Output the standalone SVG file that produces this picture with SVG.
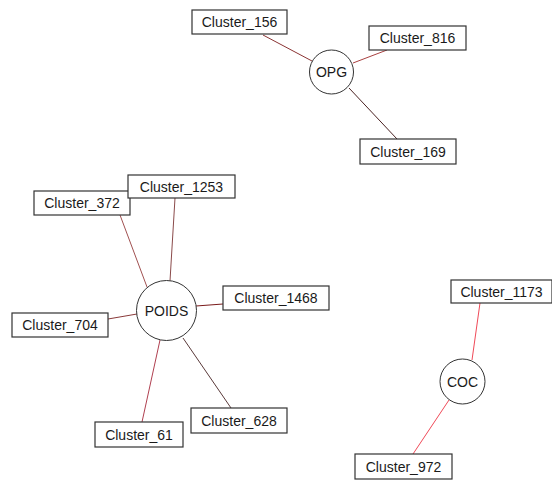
<svg xmlns="http://www.w3.org/2000/svg" width="552" height="480" viewBox="0 0 552 480">
  <style>
    .box { fill: #ffffff; stroke: #333333; stroke-width: 1.2; }
    .hub { fill: #ffffff; stroke: #333333; stroke-width: 1; }
    .lbl { font-family: "Liberation Sans", Arial, sans-serif; font-size: 14px; fill: #1a1a1a; text-anchor: middle; dominant-baseline: central; }
    .edge { stroke-width: 1; fill: none; }
  </style>
  <rect width="552" height="480" fill="#ffffff"/>

  <g id="connectors">
    <!-- OPG -->
    <line class="edge" x1="263" y1="35" x2="312" y2="61" stroke="#8b3434"/>
    <line class="edge" x1="353" y1="63" x2="387" y2="50" stroke="#a84040"/>
    <line class="edge" x1="349" y1="88" x2="397" y2="139" stroke="#4a2222"/>
    <!-- POIDS -->
    <line class="edge" x1="120" y1="215" x2="147" y2="287" stroke="#a05050"/>
    <line class="edge" x1="175" y1="198" x2="170" y2="281" stroke="#8a4a4a"/>
    <line class="edge" x1="196" y1="306" x2="223" y2="304" stroke="#7a1a1a"/>
    <line class="edge" x1="108" y1="319" x2="137" y2="314" stroke="#8a3a3a"/>
    <line class="edge" x1="160" y1="340" x2="142" y2="422" stroke="#b04050"/>
    <line class="edge" x1="183" y1="338" x2="231" y2="408" stroke="#5a3a3a"/>
    <!-- COC -->
    <line class="edge" x1="480" y1="303" x2="472" y2="360" stroke="#f04a58"/>
    <line class="edge" x1="449" y1="400" x2="413" y2="454" stroke="#f04a58"/>
  </g>

  <!-- OPG group -->
  <g id="n-cluster-156">
    <rect class="box" x="192" y="10" width="95" height="24"/>
    <text class="lbl" x="239.5" y="22">Cluster_156</text>
  </g>
  <g id="n-cluster-816">
    <rect class="box" x="369" y="26" width="97" height="24"/>
    <text class="lbl" x="417.5" y="38">Cluster_816</text>
  </g>
  <g id="n-cluster-169">
    <rect class="box" x="360" y="139" width="96" height="25"/>
    <text class="lbl" x="408" y="151.5">Cluster_169</text>
  </g>
  <g id="n-opg">
    <circle class="hub" cx="331.5" cy="72" r="22"/>
    <text class="lbl" x="331.5" y="72">OPG</text>
  </g>

  <!-- POIDS group -->
  <g id="n-cluster-372">
    <rect class="box" x="34" y="191" width="96" height="24"/>
    <text class="lbl" x="82" y="203">Cluster_372</text>
  </g>
  <g id="n-cluster-1253">
    <rect class="box" x="128" y="175" width="107" height="23"/>
    <text class="lbl" x="181.5" y="186.5">Cluster_1253</text>
  </g>
  <g id="n-cluster-1468">
    <rect class="box" x="223" y="286" width="106" height="24"/>
    <text class="lbl" x="276" y="298">Cluster_1468</text>
  </g>
  <g id="n-cluster-704">
    <rect class="box" x="12" y="313" width="96" height="24"/>
    <text class="lbl" x="60" y="325">Cluster_704</text>
  </g>
  <g id="n-cluster-628">
    <rect class="box" x="191" y="408" width="96" height="25"/>
    <text class="lbl" x="239" y="420.5">Cluster_628</text>
  </g>
  <g id="n-cluster-61">
    <rect class="box" x="95" y="422" width="88" height="25"/>
    <text class="lbl" x="139" y="434.5">Cluster_61</text>
  </g>
  <g id="n-poids">
    <circle class="hub" cx="166.5" cy="310.5" r="30"/>
    <text class="lbl" x="166.5" y="310.5">POIDS</text>
  </g>

  <!-- COC group -->
  <g id="n-cluster-1173">
    <rect class="box" x="451" y="280" width="101" height="23"/>
    <text class="lbl" x="501.5" y="291.5">Cluster_1173</text>
  </g>
  <g id="n-cluster-972">
    <rect class="box" x="355" y="454" width="97" height="25"/>
    <text class="lbl" x="403.5" y="466.5">Cluster_972</text>
  </g>
  <g id="n-coc">
    <circle class="hub" cx="462.5" cy="381.5" r="22.5"/>
    <text class="lbl" x="462.5" y="381.5">COC</text>
  </g>
</svg>
